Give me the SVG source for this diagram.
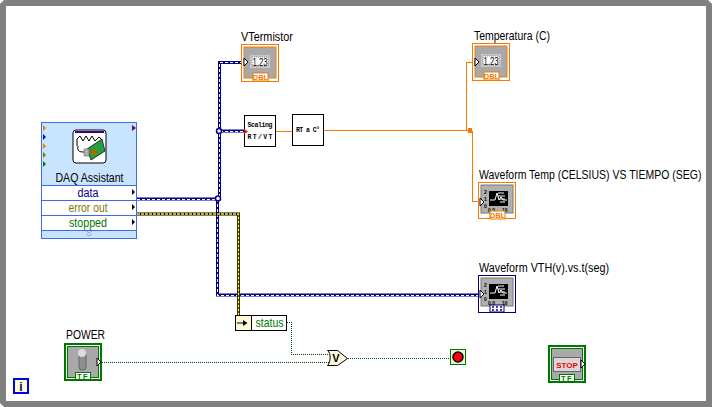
<svg xmlns="http://www.w3.org/2000/svg" width="712" height="407" viewBox="0 0 712 407">
<style>
text{font-family:"Liberation Sans",Arial,sans-serif;font-size:12px;fill:#000}
.lbl{font-size:12.500px}
.row{font-size:12.500px;text-anchor:middle}
.tag{font-weight:bold;font-size:7.500px;text-anchor:middle}
.blueo{fill:none;stroke:#000080;stroke-width:3}
.blued{fill:none;stroke:#fff;stroke-width:1;stroke-dasharray:3 2;shape-rendering:crispEdges}
.orange{fill:none;stroke:#f47b00;stroke-width:1;shape-rendering:crispEdges}
.dot{fill:none;stroke:#004c00;stroke-width:1;stroke-dasharray:1 1;shape-rendering:crispEdges}
.box{fill:#fff;stroke:#000;stroke-width:1}
.grey{fill:#a9a9a9}
.term{fill:#fff;stroke:#000;stroke-width:1}
.fn{font-family:"Liberation Mono",monospace;font-size:6.500px;font-weight:bold;text-anchor:middle}
</style>
<defs>
<g id="num"><rect x="0" y="0" width="20" height="13" fill="#c8c8c8"/><rect x="2" y="2" width="16" height="9" fill="#fff" stroke="#888" stroke-dasharray="1 1"/><text x="10" y="10.500" text-anchor="middle" textLength="15" lengthAdjust="spacingAndGlyphs" style="font-size:10.500px">1.23</text></g>
<g id="chart"><rect width="32" height="28" fill="#b0b0b0" stroke="#777"/><rect x="8" y="6" width="19" height="15" fill="#000"/><path d="M9 15h5l2-7 2 7 2-3 2 3h4M17 8h6M17 11h7M19 14h5M19 17h5" fill="none" stroke="#fff" stroke-width="1"/><text x="3" y="9" style="font-size:5px;font-weight:bold">2</text><text x="3" y="16" style="font-size:5px;font-weight:bold">1</text><text x="3" y="23" style="font-size:5px;font-weight:bold">0</text><text x="7" y="27" style="font-size:5px;font-weight:bold">0.0</text><text x="21" y="27" style="font-size:5px;font-weight:bold">10</text></g>
</defs>
<g id="frame">
<path d="M4 0H708L712 4V407H4L0 403V4Z" fill="#808080"/>
<rect x="6" y="6" width="700" height="395" fill="#fff"/>
</g>
<g id="connectors">
<path class="orange" d="M276 131.500H292M324 130.500H470M466.500 130.500V62.500H474M472.500 130.500V201.500H480"/>
<rect x="468" y="128" width="4" height="5" fill="#f47b00"/>
<path class="blueo" d="M137 199H217.500V295H480"/><path class="blued" d="M137 199H217.500V295H480"/>
<path class="blueo" d="M217.500 199L219.500 197V62.500H244M219.500 131H245"/><path class="blued" d="M219.500 197V62.500H244M219.500 131H245"/>
<circle cx="218" cy="198.500" r="2.500" fill="#fff" stroke="#000080" stroke-width="1.500"/>
<circle cx="219" cy="131" r="2.500" fill="#fff" stroke="#000080" stroke-width="1.500"/>
<path d="M137 214H238.500V316" fill="none" stroke="#000" stroke-width="3"/>
<path d="M137 214H238.500V316" fill="none" stroke="#ffee20" stroke-width="1.500" stroke-dasharray="3 1"/>
<path class="dot" d="M102 362.500H329M287 322.500H291.500V354.500H329M348 358.500H450"/>
</g>
<g id="daq">
<rect x="41.500" y="122.500" width="95" height="116" fill="#c8e4ff" stroke="#3a6aee"/>
<rect x="41.500" y="185.500" width="95" height="45" fill="#fff" stroke="#3a6aee"/>
<path d="M42 200.500H137M42 215.500H137" stroke="#3a6aee"/>
<path d="M43 125l3 3-3 3z" fill="#f47b00"/><path d="M43 134l3 3-3 3z" fill="#0000e0"/><path d="M43 143l3 3-3 3z" fill="#f47b00"/><path d="M43 152l3 3-3 3z" fill="#807800"/><path d="M43 161l3 3-3 3z" fill="#007800"/>
<path d="M132 125l4 3-4 3z" fill="#800080"/>
<rect x="73" y="130" width="33" height="33" rx="3" fill="#fff" stroke="#000"/>
<rect x="75" y="131" width="29" height="2" fill="#400080"/>
<path d="M77 146V139l3-3 3 5 3-5 3 5 3-5 3 5 4-4 3 3" fill="none" stroke="#000"/>
<path d="M78 146c-1 5 1 6 6 6" fill="none" stroke="#000"/>
<path d="M87 149l15-10 3 12-14 9z" fill="#20a040" stroke="#000" stroke-width=".7"/>
<rect x="84" y="149" width="5" height="7" fill="#b0b0b0" stroke="#555" stroke-width=".5"/>
<rect x="91" y="149" width="6" height="6" fill="#a07000"/>
<text x="89.500" y="182" class="row" textLength="68" lengthAdjust="spacingAndGlyphs">DAQ Assistant</text>
<text x="88" y="197" class="row" textLength="21" lengthAdjust="spacingAndGlyphs" style="fill:#000080">data</text>
<text x="88" y="212" class="row" textLength="39" lengthAdjust="spacingAndGlyphs" style="fill:#807800">error out</text>
<text x="88" y="227" class="row" textLength="38" lengthAdjust="spacingAndGlyphs" style="fill:#007800">stopped</text>
<path d="M132 189l3 3-3 3zM132 204l3 3-3 3zM132 219l3 3-3 3z" fill="#000"/>
<path d="M86 231l3 2 3-2M86 234l3 2 3-2" fill="none" stroke="#9aa"/>
</g>
<g id="vtermistor">
<text x="241" y="41" class="lbl" textLength="52" lengthAdjust="spacingAndGlyphs">VTermistor</text>
<rect x="241.500" y="44.500" width="37" height="37" fill="#fff" stroke="#f47b00"/>
<rect x="244" y="47" width="32" height="31" class="grey" stroke="#f47b00"/>
<use href="#num" x="250" y="55"/>
<rect x="253" y="73" width="15" height="8" fill="#fff" stroke="#f47b00"/>
<text x="260.500" y="80" class="tag" style="fill:#f47b00">DBL</text>
<path d="M244 58l4 4-4 4z" class="term"/>
</g>
<g id="scaling">
<rect x="244.500" y="115.500" width="31" height="31" class="box"/>
<text x="260" y="127" class="fn" textLength="25" lengthAdjust="spacing">Scaling</text>
<text x="260" y="139" class="fn" textLength="25" lengthAdjust="spacing">RT/VT</text>
<path d="M244 129l4 2.500-4 2.500z" fill="#f00"/>
</g>
<g id="rtac">
<rect x="292.500" y="114.500" width="31" height="31" class="box"/>
<text x="308" y="132" class="fn" textLength="24" lengthAdjust="spacing">RT a C°</text>
</g>
<g id="temperatura">
<text x="474" y="40" class="lbl" textLength="76" lengthAdjust="spacingAndGlyphs">Temperatura (C)</text>
<rect x="472.500" y="43.500" width="37" height="37" fill="#fff" stroke="#f47b00"/>
<rect x="475" y="46" width="32" height="31" class="grey" stroke="#f47b00"/>
<use href="#num" x="481" y="54"/>
<rect x="484" y="72" width="15" height="8" fill="#fff" stroke="#f47b00"/>
<text x="491.500" y="79" class="tag" style="fill:#f47b00">DBL</text>
<path d="M475 58l4 4-4 4z" class="term"/>
</g>
<g id="waveform-temp">
<text transform="translate(479 179) scale(.84 1)" class="lbl">Waveform Temp (CELSIUS) VS TIEMPO (SEG)</text>
<rect x="478.500" y="182.500" width="37" height="36" fill="#fff" stroke="#f47b00"/>
<use href="#chart" x="481" y="185"/>
<rect x="490" y="211" width="15" height="8" fill="#fff" stroke="#f47b00"/>
<text x="497.500" y="218" class="tag" style="fill:#f47b00">DBL</text>
<path d="M480 198l4 4-4 4z" class="term"/>
</g>
<g id="waveform-vth">
<text x="479" y="272" class="lbl" textLength="130" lengthAdjust="spacingAndGlyphs">Waveform VTH(v).vs.t(seg)</text>
<rect x="478.500" y="275.500" width="37" height="37" fill="#fff" stroke="#000080"/>
<use href="#chart" x="481" y="278"/>
<rect x="490" y="305" width="14" height="7" fill="#fff" stroke="#000080"/>
<path d="M492 307h10M492 310h10" stroke="#000080" stroke-width="1.500" stroke-dasharray="2 2"/>
<path d="M480 290l4 4-4 4z" class="term"/>
</g>
<g id="power">
<text x="66" y="339" class="lbl" textLength="39" lengthAdjust="spacingAndGlyphs">POWER</text>
<rect x="65" y="344" width="36" height="36" fill="#fff" stroke="#007800" stroke-width="2"/>
<rect x="67.500" y="346.500" width="31" height="31" class="grey" stroke="#007800"/>
<rect x="79" y="352" width="7" height="18" rx="3" fill="#8f8f8f" stroke="#666"/>
<circle cx="82" cy="353" r="4" fill="#ddd"/>
<rect x="75.500" y="372.500" width="15" height="7" fill="#fff" stroke="#007800"/>
<text x="83" y="379" class="tag" style="fill:#007800;letter-spacing:1.500px">TF</text>
<path d="M97 358l4 4-4 4z" class="term"/>
</g>
<g id="status">
<rect x="235.500" y="315.500" width="51" height="15" fill="#fff" stroke="#000"/>
<rect x="235.500" y="315.500" width="16" height="15" fill="#fff8d8" stroke="#000"/>
<path d="M237 322.500h6v-2.500l4.500 3-4.500 3v-2.500h-6z" fill="#000"/>
<text x="269.500" y="327" text-anchor="middle" textLength="28" lengthAdjust="spacingAndGlyphs" style="fill:#007800;font-size:12.500px">status</text>
</g>
<g id="or">
<path d="M327.500 350.500h10l10 8-10 7h-10c3-3 4-12 0-15z" fill="#fff8d8" stroke="#000"/>
<text x="336" y="362" text-anchor="middle" style="font-size:11px;font-weight:bold">V</text>
</g>
<g id="stop-terminal">
<rect x="450.500" y="349.500" width="15" height="15" fill="#f4f4d0" stroke="#007800"/>
<circle cx="458" cy="357" r="5" fill="#f00" stroke="#000" stroke-width="1.500"/>
</g>
<g id="stop-button">
<rect x="549" y="346" width="36" height="36" fill="#fff" stroke="#007800" stroke-width="2"/>
<rect x="551.500" y="348.500" width="31" height="31" class="grey" stroke="#007800"/>
<rect x="553.500" y="357.500" width="27" height="14" fill="#d8d8d8" stroke="#666"/>
<text x="567" y="368" text-anchor="middle" style="font-size:8px;font-weight:bold;fill:#f00000">STOP</text>
<rect x="559.500" y="374.500" width="15" height="7" fill="#fff" stroke="#007800"/>
<text x="567" y="381" class="tag" style="fill:#007800;letter-spacing:1.500px">TF</text>
<path d="M581 360l4 4-4 4z" class="term"/>
</g>
<g id="iteration">
<rect x="14" y="379" width="14" height="14" fill="#ffffd0" stroke="#0000f0" stroke-width="2"/>
<text x="21" y="391" text-anchor="middle" style="font-size:12px;font-weight:bold;fill:#000080">i</text>
</g>
</svg>
